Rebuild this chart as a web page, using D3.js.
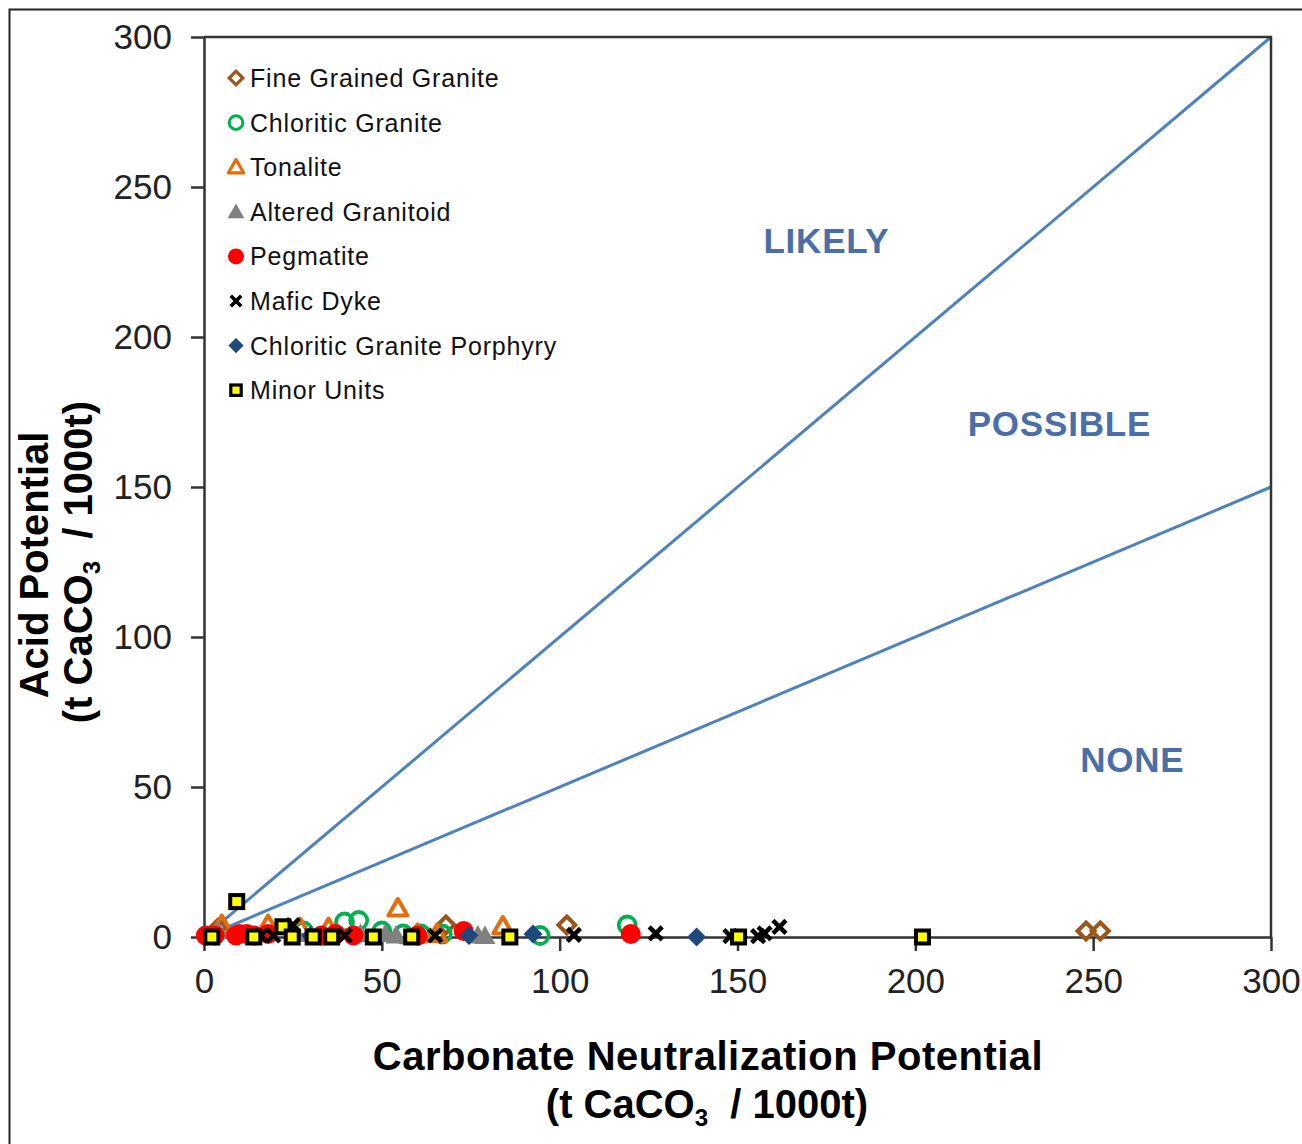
<!DOCTYPE html>
<html>
<head>
<meta charset="utf-8">
<script src="https://cdn.jsdelivr.net/npm/d3@7"></script>
<style>
  body { margin: 0; background: #fff; }
  svg { display: block; font-family: "Liberation Sans", Arial, sans-serif; }
</style>
</head>
<body>
<svg id="chart" width="1302" height="1144"></svg>
<script>
// [carbonate NP, acid potential] pairs per rock type
const fineGrainedGranite = [[4, 3], [68, 4], [102, 4], [248, 2], [252, 2]];
const chloriticGranite = [[28, 2], [39.5, 5], [43.5, 5.5], [50, 2], [56, 1], [61, 1], [67, 1], [94.5, 0.5], [119, 4]];
const tonalite = [[5, 4], [18, 4], [27, 3], [35, 3], [54.5, 9.5], [60, 1], [65.5, 1], [84, 3.5]];
const alteredGranitoid = [[4, 2], [26, 1], [44, 1], [51, 1], [54, 0.5], [77, 0.5], [79, 0.3]];
const pegmatite = [[0.5, 0.5], [3, 0.5], [9, 0.5], [10, 1], [12, 1], [14, 0.5], [18, 1], [33, 0.5], [37, 1], [42, 0.5], [60, 0.5], [73, 2], [120, 1]];
const maficDyke = [[16, 0.5], [19.5, 0.5], [25, 4], [39.6, 0.5], [65, 0.5], [104, 0.7], [127, 1.2], [148, 0.3], [155.8, 0.3], [157.6, 1.2], [161.8, 3.4]];
const porphyry = [[30, 0.5], [74.5, 0.5], [92.5, 1], [138.5, 0]];
const minorUnits = [[9.2, 11.8], [2.2, 0], [14, 0], [22.2, 3.4], [24.8, 0], [30.7, 0], [35.9, 0], [47.6, 0], [58.4, 0], [86, 0], [150.3, 0], [202, 0]];

const seriesNames = ['Fine Grained Granite', 'Chloritic Granite', 'Tonalite', 'Altered Granitoid',
  'Pegmatite', 'Mafic Dyke', 'Chloritic Granite Porphyry', 'Minor Units'];
const seriesData = [fineGrainedGranite, chloriticGranite, tonalite, alteredGranitoid,
  pegmatite, maficDyke, porphyry, minorUnits];

const xTicks = [0, 50, 100, 150, 200, 250, 300];
const yTicks = [0, 50, 100, 150, 200, 250, 300];
// ratio lines AP = k * NP
const ratioLines = [1, 0.5];
const regionLabels = [
  { text: 'LIKELY', x: 175, y: 228 },
  { text: 'POSSIBLE', x: 240.5, y: 167 },
  { text: 'NONE', x: 261, y: 55 }
];

const svg = d3.select('#chart');

const x = d3.scaleLinear().domain([0, 300]).range([204, 1271]);
const y = d3.scaleLinear().domain([0, 300]).range([937, 37]);

const blue = '#4f81bd';
const axisColor = '#333';

// outer frame
svg.append('rect')
  .attr('x', 9.5).attr('y', 9.5)
  .attr('width', 1310).attr('height', 1160)
  .attr('fill', 'none').attr('stroke', '#222').attr('stroke-width', 2);

// ratio lines
svg.selectAll('.ratio')
  .data(ratioLines)
  .enter()
  .append('line')
  .attr('class', 'ratio')
  .attr('x1', x(0)).attr('y1', y(0))
  .attr('x2', x(300)).attr('y2', k => y(300 * k))
  .attr('stroke', blue).attr('stroke-width', 3);

// region labels
svg.selectAll('.region')
  .data(regionLabels)
  .enter()
  .append('text')
  .attr('class', 'region')
  .attr('x', d => x(d.x)).attr('y', d => y(d.y))
  .attr('text-anchor', 'middle')
  .attr('font-size', 35).attr('font-weight', 'bold')
  .attr('letter-spacing', 0.8)
  .attr('fill', '#4a6ea8')
  .text(d => d.text);

// axes
const yAxis = d3.axisLeft(y).tickValues(yTicks).tickSize(13).tickSizeOuter(0).tickPadding(19);
const xAxis = d3.axisBottom(x).tickValues(xTicks).tickSize(14).tickSizeOuter(0).tickPadding(17);

const gy = svg.append('g').attr('transform', `translate(${x(0)},0)`).call(yAxis);
const gx = svg.append('g').attr('transform', `translate(0,${y(0)})`).call(xAxis);

[gx, gy].forEach(g => {
  g.selectAll('path, line').attr('stroke', axisColor).attr('stroke-width', 2.5);
  g.selectAll('text').attr('font-size', 35).attr('fill', '#222')
    .attr('font-family', '"Liberation Sans", Arial, sans-serif');
});

// top and right border of plot box
svg.append('path')
  .attr('d', `M${x(0)},${y(300)}H${x(300)}V${y(0)}`)
  .attr('fill', 'none').attr('stroke', axisColor).attr('stroke-width', 2.5);

// marker drawing
function drawMarker(g, i, s) {
  switch (i) {
    case 0: // open brown diamond
      g.append('path').attr('d', `M0,${-8.5 * s}L${8.5 * s},0L0,${8.5 * s}L${-8.5 * s},0Z`)
        .attr('fill', 'none').attr('stroke', '#9c5619').attr('stroke-width', 4 * s);
      break;
    case 1: // open green circle
      g.append('circle').attr('r', 8.5 * s)
        .attr('fill', 'none').attr('stroke', '#00b050').attr('stroke-width', 3.8 * s);
      break;
    case 2: // open orange triangle
      g.append('path').attr('d', `M0,${-9.5 * s}L${9.5 * s},${7 * s}L${-9.5 * s},${7 * s}Z`)
        .attr('fill', 'none').attr('stroke', '#e46c0a').attr('stroke-width', 4 * s)
        .attr('stroke-linejoin', 'round');
      break;
    case 3: // gray filled triangle
      g.append('path').attr('d', `M0,${-10.5 * s}L${10.5 * s},${8 * s}L${-10.5 * s},${8 * s}Z`)
        .attr('fill', '#808080');
      break;
    case 4: // red dot
      g.append('circle').attr('r', 10 * s).attr('fill', '#ff0000');
      break;
    case 5: // black x
      g.append('path').attr('d', `M${-6.5 * s},${-6.5 * s}L${6.5 * s},${6.5 * s}M${6.5 * s},${-6.5 * s}L${-6.5 * s},${6.5 * s}`)
        .attr('stroke', '#000').attr('stroke-width', 4.5 * s);
      break;
    case 6: // dark blue diamond
      g.append('path').attr('d', `M0,${-9.5 * s}L${9.5 * s},0L0,${9.5 * s}L${-9.5 * s},0Z`)
        .attr('fill', '#1f497d');
      break;
    case 7: // yellow square with black border
      g.append('rect').attr('x', -6.5 * s).attr('y', -6.5 * s)
        .attr('width', 13 * s).attr('height', 13 * s)
        .attr('fill', '#ffff00').attr('stroke', '#000').attr('stroke-width', 4 * s);
      break;
  }
}

// data points, series drawn in order so later ones sit on top
seriesData.forEach((data, i) => {
  const g = svg.append('g').attr('class', 'series-' + i);
  g.selectAll('g')
    .data(data)
    .enter()
    .append('g')
    .attr('transform', d => `translate(${x(d[0])},${y(d[1])})`)
    .each(function () { drawMarker(d3.select(this), i, 1); });
});

// legend
const legend = svg.append('g');
seriesNames.forEach((name, i) => {
  const yy = 78 + i * 44.6;
  const m = legend.append('g').attr('transform', `translate(236,${yy})`);
  drawMarker(m, i, 0.8);
  legend.append('text')
    .attr('x', 250).attr('y', yy + 9)
    .attr('font-size', 25).attr('letter-spacing', 0.8)
    .attr('fill', '#111')
    .text(name);
});

// axis titles
function unitLabel(sel) {
  sel.append('tspan').text('(t CaCO');
  sel.append('tspan').text('3').attr('font-size', 24).attr('dy', 8);
  sel.append('tspan').text('  / 1000t)').attr('dy', -8).attr('xml:space', 'preserve')
    .style('white-space', 'pre');
}

svg.append('text')
  .attr('x', 708).attr('y', 1070)
  .attr('text-anchor', 'middle').attr('font-size', 40).attr('font-weight', 'bold')
  .attr('letter-spacing', 0.5)
  .attr('fill', '#000')
  .text('Carbonate Neutralization Potential');

svg.append('text')
  .attr('x', 707).attr('y', 1118)
  .attr('text-anchor', 'middle').attr('font-size', 40).attr('font-weight', 'bold')
  .attr('fill', '#000')
  .call(unitLabel);

svg.append('text')
  .attr('transform', 'translate(48,565) rotate(-90)')
  .attr('text-anchor', 'middle').attr('font-size', 40).attr('font-weight', 'bold')
  .attr('fill', '#000')
  .text('Acid Potential');

svg.append('text')
  .attr('transform', 'translate(92,562) rotate(-90)')
  .attr('text-anchor', 'middle').attr('font-size', 40).attr('font-weight', 'bold')
  .attr('fill', '#000')
  .call(unitLabel);
</script>
</body>
</html>
